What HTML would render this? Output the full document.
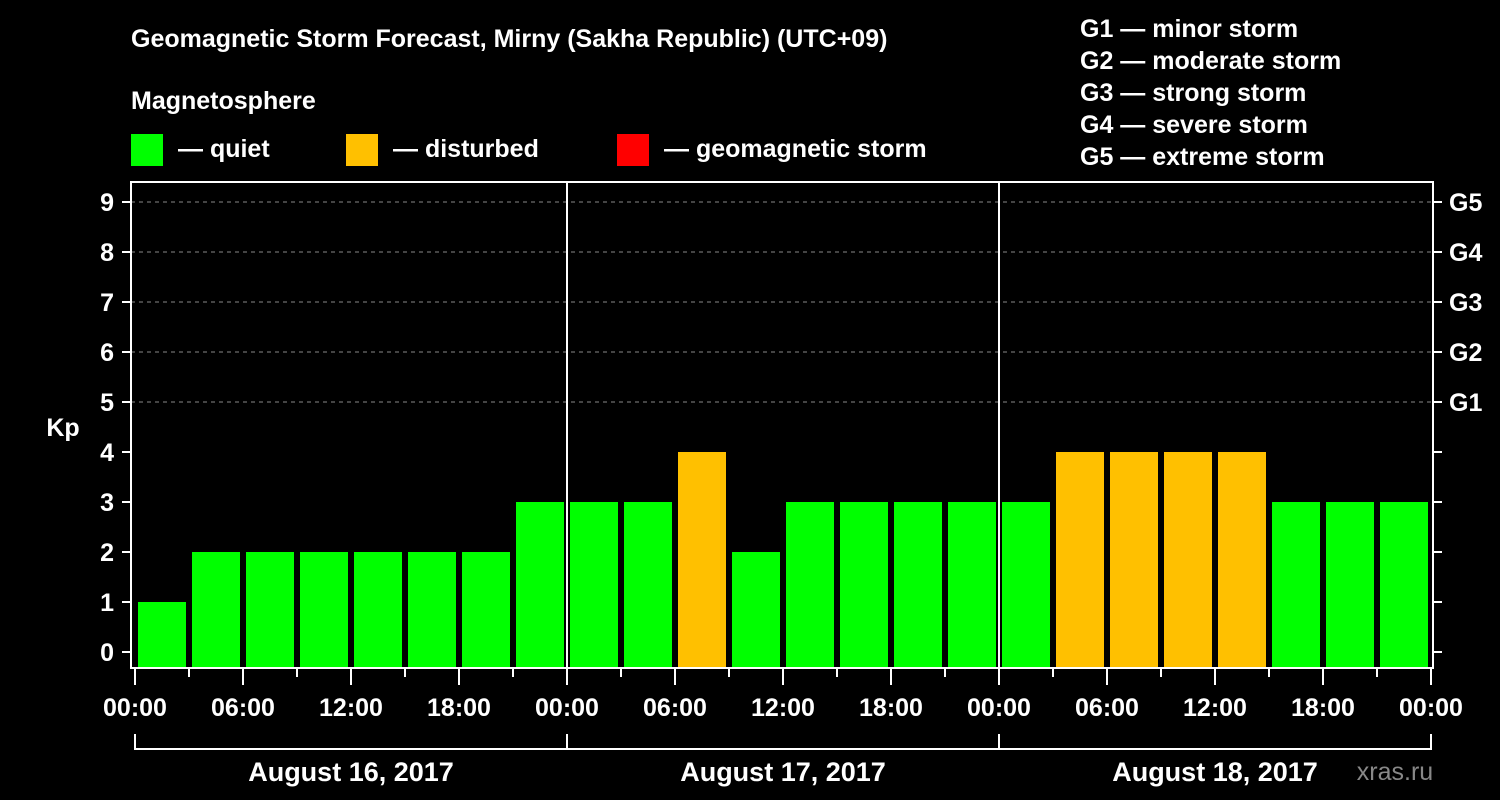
<!DOCTYPE html>
<html><head><meta charset="utf-8"><style>
html,body{margin:0;padding:0;background:#000;}
svg{display:block;font-family:"Liberation Sans",Arial,sans-serif;font-weight:bold;}
</style></head><body>
<svg id="c" width="1500" height="800" viewBox="0 0 1500 800">
<g fill="#fff" font-size="25">
<text x="131" y="47">Geomagnetic Storm Forecast, Mirny (Sakha Republic) (UTC+09)</text>
<text x="131" y="109">Magnetosphere</text>
<rect x="131" y="134" width="32" height="32" fill="#00ff00"/>
<text x="178" y="157">— quiet</text>
<rect x="346" y="134" width="32" height="32" fill="#ffc000"/>
<text x="393" y="157">— disturbed</text>
<rect x="617" y="134" width="32" height="32" fill="#ff0000"/>
<text x="664" y="157">— geomagnetic storm</text>
<text x="1080" y="37">G1 — minor storm</text>
<text x="1080" y="69">G2 — moderate storm</text>
<text x="1080" y="101">G3 — strong storm</text>
<text x="1080" y="133">G4 — severe storm</text>
<text x="1080" y="165">G5 — extreme storm</text>
</g>
<g id="plot"></g>
<text x="1395" y="780" fill="#888" font-size="25" font-weight="normal" text-anchor="middle">xras.ru</text>
</svg>
<script>
const kpValues=[1,2,2,2,2,2,2,3, 3,3,4,2,3,3,3,3, 3,4,4,4,4,3,3,3];
const yTicks=[0,1,2,3,4,5,6,7,8,9];
const gLabels=["G1","G2","G3","G4","G5"];
const gLevels=[5,6,7,8,9];
const hourLabels=["00:00","06:00","12:00","18:00"];
const dayLabels=["August 16, 2017","August 17, 2017","August 18, 2017"];
const NS="http://www.w3.org/2000/svg";
const g=document.getElementById('plot');
const L=131,R=1433,T=182,B=668,X0=135,DAY=432;
const y=v=>652-50*v;
const x=h=>X0+h*DAY/24;
function el(t,a,p){const e=document.createElementNS(NS,t);for(const k in a)e.setAttribute(k,a[k]);(p||g).appendChild(e);return e;}
yTicks.forEach(v=>{
 if(v>=5){const l=el('line',{x1:L,x2:R,y1:y(v),y2:y(v),stroke:'#888','stroke-dasharray':'4,4'});
 
 }
 const t=el('line',{x1:L-9,x2:L,y1:y(v),y2:y(v),stroke:'#fff','stroke-width':2});
 
 
 const r=el('line',{x1:R,x2:R+9,y1:y(v),y2:y(v),stroke:'#fff','stroke-width':2});
 
 
 const tx=el('text',{x:L-17,y:y(v)+9,fill:'#fff','font-size':25,'text-anchor':'end'});tx.textContent=v;
 
 
});
gLabels.forEach((s,i)=>{
 const tx=el('text',{x:1449,y:y(gLevels[i])+9,fill:'#fff','font-size':25});tx.textContent=s;
 
 
});
kpValues.forEach((v,i)=>{
 const c=v>=5?'#ff0000':(v>=4?'#ffc000':'#00ff00');
 const r=el('rect',{x:x(i*3)+3,y:y(v),width:48,height:B-y(v),fill:c});
 
 
});
[1,2].forEach(d=>{const l=el('line',{x1:x(d*24),x2:x(d*24),y1:T,y2:B,stroke:'#fff','stroke-width':2});
 
 });
const f=el('rect',{x:L,y:T,width:R-L,height:B-T,fill:'none',stroke:'#fff','stroke-width':2});


const yl=el('text',{x:63,y:436,fill:'#fff','font-size':25,'text-anchor':'middle'});yl.textContent='Kp';


for(let h=0;h<=72;h+=3){
 const major=h%6===0;
 const t=el('line',{x1:x(h),x2:x(h),y1:B,y2:B+(major?17:9),stroke:'#fff','stroke-width':2});
 
 
 if(major){const tx=el('text',{x:x(h),y:716,fill:'#fff','font-size':25,'text-anchor':'middle'});
 tx.textContent=h===72?hourLabels[0]:hourLabels[(h%24)/6];
 
 }
}
const br=el('path',{d:`M${x(0)} 734V749H${x(72)}V734`,fill:'none',stroke:'#fff','stroke-width':2});


[1,2].forEach(d=>{const l=el('line',{x1:x(d*24),x2:x(d*24),y1:734,y2:749,stroke:'#fff','stroke-width':2});
 
 });
dayLabels.forEach((s,d)=>{const tx=el('text',{x:x(d*24+12),y:781,fill:'#fff','font-size':27,'text-anchor':'middle'});tx.textContent=s;
 
 });
</script>
</body></html>
